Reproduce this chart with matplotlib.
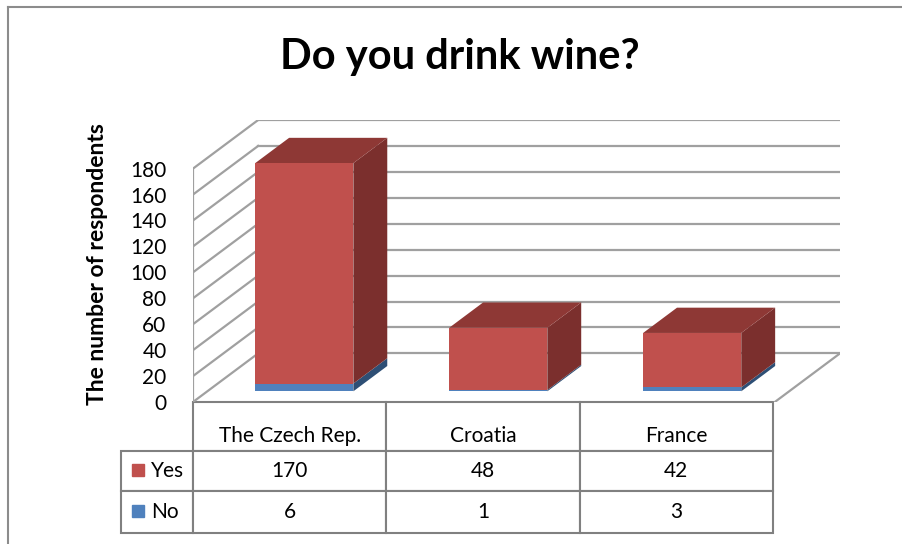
import matplotlib
matplotlib.use("Agg")
import matplotlib.pyplot as plt
from matplotlib.patches import Polygon, Rectangle
from matplotlib.lines import Line2D

plt.rcParams['font.family'] = ['Lato', 'DejaVu Sans']

# survey answers
countries = ['The Czech Rep.', 'Croatia', 'France']
series = ['Yes', 'No']
yes_counts = [170, 48, 42]
no_counts = [6, 1, 3]
y_ticks = list(range(0, 181, 20))

# colours: front / side / top faces
RED = ('#C0504D', '#7B2F2D', '#8E3835')
BLUE = ('#4F81BD', '#2E4F75', '#3B6493')
GRID = '#A0A0A0'

# depth of the fake 3d box in data units
DX = 0.336
DY = 37.5
# bar placed between these fractions of the depth
D0, D1 = 0.22, 0.74
HALF_W = 0.253

fig = plt.figure(figsize=(9.02, 5.44), dpi=100)
ax = fig.add_axes([193 / 902, 142 / 544, 647 / 902, 282 / 544])
ax.set_xlim(0, len(countries) + DX)
ax.set_ylim(0, y_ticks[-1] + DY)

# walls: back gridlines and left-wall diagonals
for v in y_ticks:
    ax.plot([DX, len(countries) + DX], [v + DY, v + DY], color=GRID, lw=1.6, zorder=1)
    ax.plot([0, DX], [v, v + DY], color=GRID, lw=1.6, zorder=1)
ax.plot([0, 0], [0, y_ticks[-1]], color=GRID, lw=1.6, zorder=1)
ax.plot([len(countries), len(countries) + DX], [0, DY], color=GRID, lw=1.6, zorder=1)


def box(c, bottom, top, colors, with_top):
    x0 = c - HALF_W + D0 * DX
    x1 = c + HALF_W + D0 * DX
    y0 = bottom + D0 * DY
    y1 = top + D0 * DY
    ddx = (D1 - D0) * DX
    ddy = (D1 - D0) * DY
    front = Rectangle((x0, y0), x1 - x0, y1 - y0, facecolor=colors[0], edgecolor='none', zorder=3)
    side = Polygon([(x1, y0), (x1 + ddx, y0 + ddy), (x1 + ddx, y1 + ddy), (x1, y1)],
                   facecolor=colors[1], edgecolor='none', zorder=2)
    ax.add_patch(side)
    ax.add_patch(front)
    if with_top:
        lid = Polygon([(x0, y1), (x1, y1), (x1 + ddx, y1 + ddy), (x0 + ddx, y1 + ddy)],
                      facecolor=colors[2], edgecolor='none', zorder=2)
        ax.add_patch(lid)


for i in range(len(countries)):
    c = i + 0.5
    box(c, 0, no_counts[i], BLUE, False)
    box(c, no_counts[i], no_counts[i] + yes_counts[i], RED, True)

for s in ax.spines.values():
    s.set_visible(False)
ax.set_xticks([])
ax.set_yticks(y_ticks)
ax.tick_params(axis='y', length=0, pad=19, labelsize=15)
ax.set_ylabel('The number of respondents', fontsize=16.5, fontweight='bold')
ax.yaxis.set_label_coords(-0.132, 0.49)

# data table under the floor
cells = [[''] + countries,
         [series[0]] + [str(v) for v in yes_counts],
         [series[1]] + [str(v) for v in no_counts]]
tab = ax.table(cellText=cells, cellLoc='center',
               colWidths=[72, 193.5, 193.5, 193.5],
               bbox=[-72 / 647, -131 / 282, 652 / 647, 131 / 282])
tab.auto_set_font_size(False)
tab.set_fontsize(15)
row_h = [49, 40, 42]
for (r, col), cell in tab.get_celld().items():
    cell.set_height(row_h[r])
    cell.set_edgecolor('#808080')
    cell.set_linewidth(1.5)
    if r == 0 and col == 0:
        cell.visible_edges = ''
    if r == 0 and col > 0:
        cell.get_text().set_va('top')
    if col == 0 and r > 0:
        cell._loc = 'left'
        cell.PAD = 0.42
        cell.get_text().set_ha('left')

# legend keys in the row header cells
for k, colors in enumerate([RED, BLUE]):
    ax.plot([(138 - 193) / 647], [-(470 + 41 * k - 402) / 282], marker='s', ms=9,
            color=colors[0], transform=ax.transAxes, clip_on=False, zorder=5)

fig.text(460 / 902, 1 - 57 / 544, 'Do you drink wine?', ha='center', va='center',
         fontsize=30, fontweight='bold')

# chart frame (left and top edges only)
frame = dict(color='#8C8C8C', lw=1.5, transform=fig.transFigure)
fig.add_artist(Line2D([8 / 902, 8 / 902], [0, 1 - 7 / 544], **frame))
fig.add_artist(Line2D([8 / 902, 1], [1 - 7 / 544, 1 - 7 / 544], **frame))

fig.savefig('out.png', dpi=100)
